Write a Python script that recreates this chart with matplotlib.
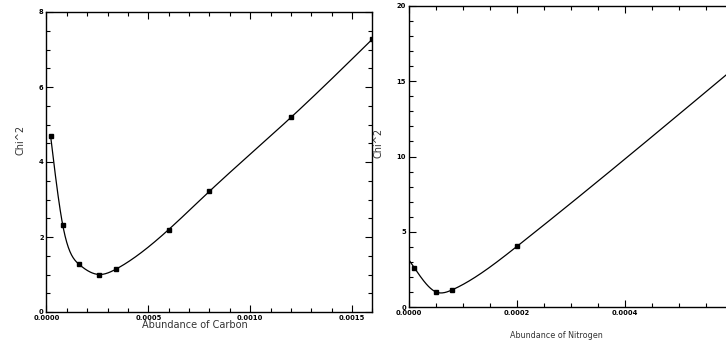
import numpy as np
import matplotlib
matplotlib.use("Agg")
import matplotlib.pyplot as plt
from matplotlib.ticker import MultipleLocator, FormatStrFormatter, FuncFormatter

# Data
carbon_x = [0.00002, 0.00008, 0.00016, 0.00026, 0.00034, 0.0006, 0.0008, 0.0012, 0.0016]
carbon_chi2 = [4.7, 2.31, 1.27, 1.0, 1.14, 2.2, 3.22, 5.19, 7.28]

nitrogen_x = [0.00001, 0.00005, 0.00008, 0.0002, 0.0006]
nitrogen_chi2 = [2.6, 1.0, 1.14, 4.03, 15.8]


def natural_spline(x, y, xe):
    x = np.asarray(x, float); y = np.asarray(y, float)
    n = len(x)
    h = np.diff(x)
    A = np.zeros((n, n)); b = np.zeros(n)
    A[0, 0] = 1; A[-1, -1] = 1
    for i in range(1, n - 1):
        A[i, i - 1] = h[i - 1]
        A[i, i] = 2 * (h[i - 1] + h[i])
        A[i, i + 1] = h[i]
        b[i] = 3 * ((y[i + 1] - y[i]) / h[i] - (y[i] - y[i - 1]) / h[i - 1])
    c = np.linalg.solve(A, b)
    bb = (y[1:] - y[:-1]) / h - h * (2 * c[:-1] + c[1:]) / 3
    d = (c[1:] - c[:-1]) / (3 * h)
    idx = np.clip(np.searchsorted(x, xe) - 1, 0, n - 2)
    dx = xe - x[idx]
    return y[idx] + bb[idx] * dx + c[idx] * dx ** 2 + d[idx] * dx ** 3


W, H = 726, 344
fig = plt.figure(figsize=(W / 100, H / 100), dpi=100)

def px_axes(x0, x1, ytop, ybot):
    return fig.add_axes([x0 / W, (H - ybot) / H, (x1 - x0) / W, (ybot - ytop) / H])

tick_fp = matplotlib.font_manager.FontProperties(family="DejaVu Sans", size=4.9, weight="bold")

def style(ax, xmaj, xmin, ymaj, ymin, xfmt):
    for s in ax.spines.values():
        s.set_linewidth(1.0)
    ax.xaxis.set_major_locator(MultipleLocator(xmaj))
    ax.xaxis.set_minor_locator(MultipleLocator(xmin))
    ax.yaxis.set_major_locator(MultipleLocator(ymaj))
    ax.yaxis.set_minor_locator(MultipleLocator(ymin))
    ax.xaxis.set_major_formatter(xfmt)
    ax.yaxis.set_major_formatter(FormatStrFormatter('%d'))
    ax.tick_params(which='both', direction='in', top=True, right=True, width=0.8, pad=2)
    ax.tick_params(which='major', length=5)
    ax.tick_params(which='minor', length=3)
    for lab in ax.get_xticklabels() + ax.get_yticklabels():
        lab.set_fontproperties(tick_fp)

# Left: Carbon
ax1 = px_axes(46.5, 372.5, 12, 312)
xe = np.linspace(carbon_x[0], carbon_x[-1], 600)
ax1.plot(xe, natural_spline(carbon_x, carbon_chi2, xe), color='black', lw=0.9)
ax1.plot(carbon_x, carbon_chi2, 's', color='black', ms=3.3)
ax1.set_xlim(0, 0.0016)
ax1.set_ylim(0, 8)
style(ax1, 0.0005, 0.0001, 2, 0.5, FormatStrFormatter('%.4f'))

# Right: Nitrogen
ax2 = px_axes(409, 733, 6, 307)
xe2 = np.linspace(0, nitrogen_x[-1], 600)
ax2.plot(xe2, natural_spline(nitrogen_x, nitrogen_chi2, xe2), color='black', lw=0.9)
ax2.plot(nitrogen_x, nitrogen_chi2, 's', color='black', ms=3.3)
ax2.set_xlim(0, 0.0006)
ax2.set_ylim(0, 20)
style(ax2, 0.0002, 0.00005, 5, 1,
      FuncFormatter(lambda v, p: '' if v > 0.00055 else '%.4f' % v))

# Axis labels
fig.text(195 / W, 1 - 325 / H, "Abundance of Carbon", ha='center', va='center',
         fontsize=7, color='#333333')
fig.text(20 / W, 1 - 140 / H, "Chi^2", ha='center', va='center', rotation=90,
         fontsize=7, color='#333333')
fig.text(556 / W, 1 - 335 / H, "Abundance of Nitrogen", ha='center', va='center',
         fontsize=5.8, color='#333333')
fig.text(378 / W, 1 - 143 / H, "Chi^2", ha='center', va='center', rotation=90,
         fontsize=7, color='#333333')

fig.savefig("out.png", dpi=100)
